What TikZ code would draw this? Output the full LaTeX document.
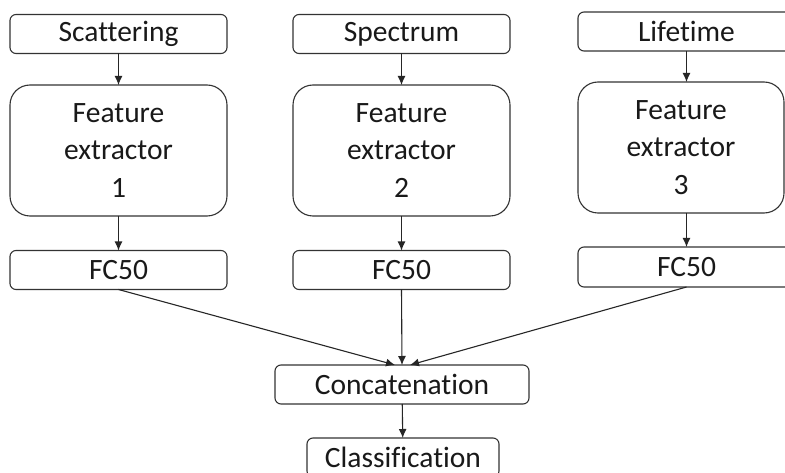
\documentclass[tikz,border=0pt]{standalone}
\usepackage{fontspec}
\setmainfont{Carlito}[Ligatures={NoCommon}]
\usetikzlibrary{arrows.meta}
\begin{document}
\begin{tikzpicture}[x=1pt,y=-1pt,
  every node/.style={inner sep=0pt,outer sep=0pt,text=black!90,font=\fontsize{29.5}{37.5}\selectfont},
  smallbox/.style={draw=black!80,line width=1.1pt,rounded corners=6pt,minimum width=217pt,minimum height=39pt},
  bigbox/.style={draw=black!80,line width=1.1pt,rounded corners=20pt,minimum width=217pt,minimum height=131pt,align=center},
  conn/.style={draw=black!85,line width=1.1pt,-{Latex[length=9pt,width=8pt]}}]
\useasboundingbox (0,0) rectangle (785,473);
\clip (0,0) rectangle (785,473);
\fill[white] (0,0) rectangle (785,473);
% column 1
\node[smallbox] (in1) at (118.5,34) {Scattering};
\node[bigbox] (fe1) at (118.5,150.5) {Feature\\extractor\\1};
\node[smallbox] (fc1) at (118.5,270) {FC50};
% column 2
\node[smallbox] (in2) at (401.5,34) {Spectrum};
\node[bigbox] (fe2) at (401.5,150.5) {Feature\\extractor\\2};
\node[smallbox] (fc2) at (401.5,270) {FC50};
% column 3
\node[smallbox] (in3) at (686.5,31.5) {Lifetime};
\node[bigbox,minimum width=206pt] (fe3) at (681,147.5) {Feature\\extractor\\3};
\node[smallbox,minimum height=40pt] (fc3) at (686.5,267) {FC50};
% bottom
\node[smallbox,minimum width=254pt] (cat) at (402,384.5) {Concatenation};
\node[smallbox,minimum width=192pt] (cls) at (403,457.5) {Classification};
% connectors
\draw[conn] (in1) -- (fe1);
\draw[conn] (fe1) -- (fc1);
\draw[conn] (in2) -- (fe2);
\draw[conn] (fe2) -- (fc2);
\draw[conn] (in3.south) -- (in3.south |- fe3.north);
\draw[conn] (fe3.south -| in3.south) -- (fc3.north);
\draw[conn] (fc1.south) -- ([xshift=-7pt]cat.north);
\draw[conn] (fc2.south) -- (cat.north);
\draw[conn] (fc3.south) -- ([xshift=8pt]cat.north);
\draw[conn] (cat) -- (cls);
\end{tikzpicture}
\end{document}
